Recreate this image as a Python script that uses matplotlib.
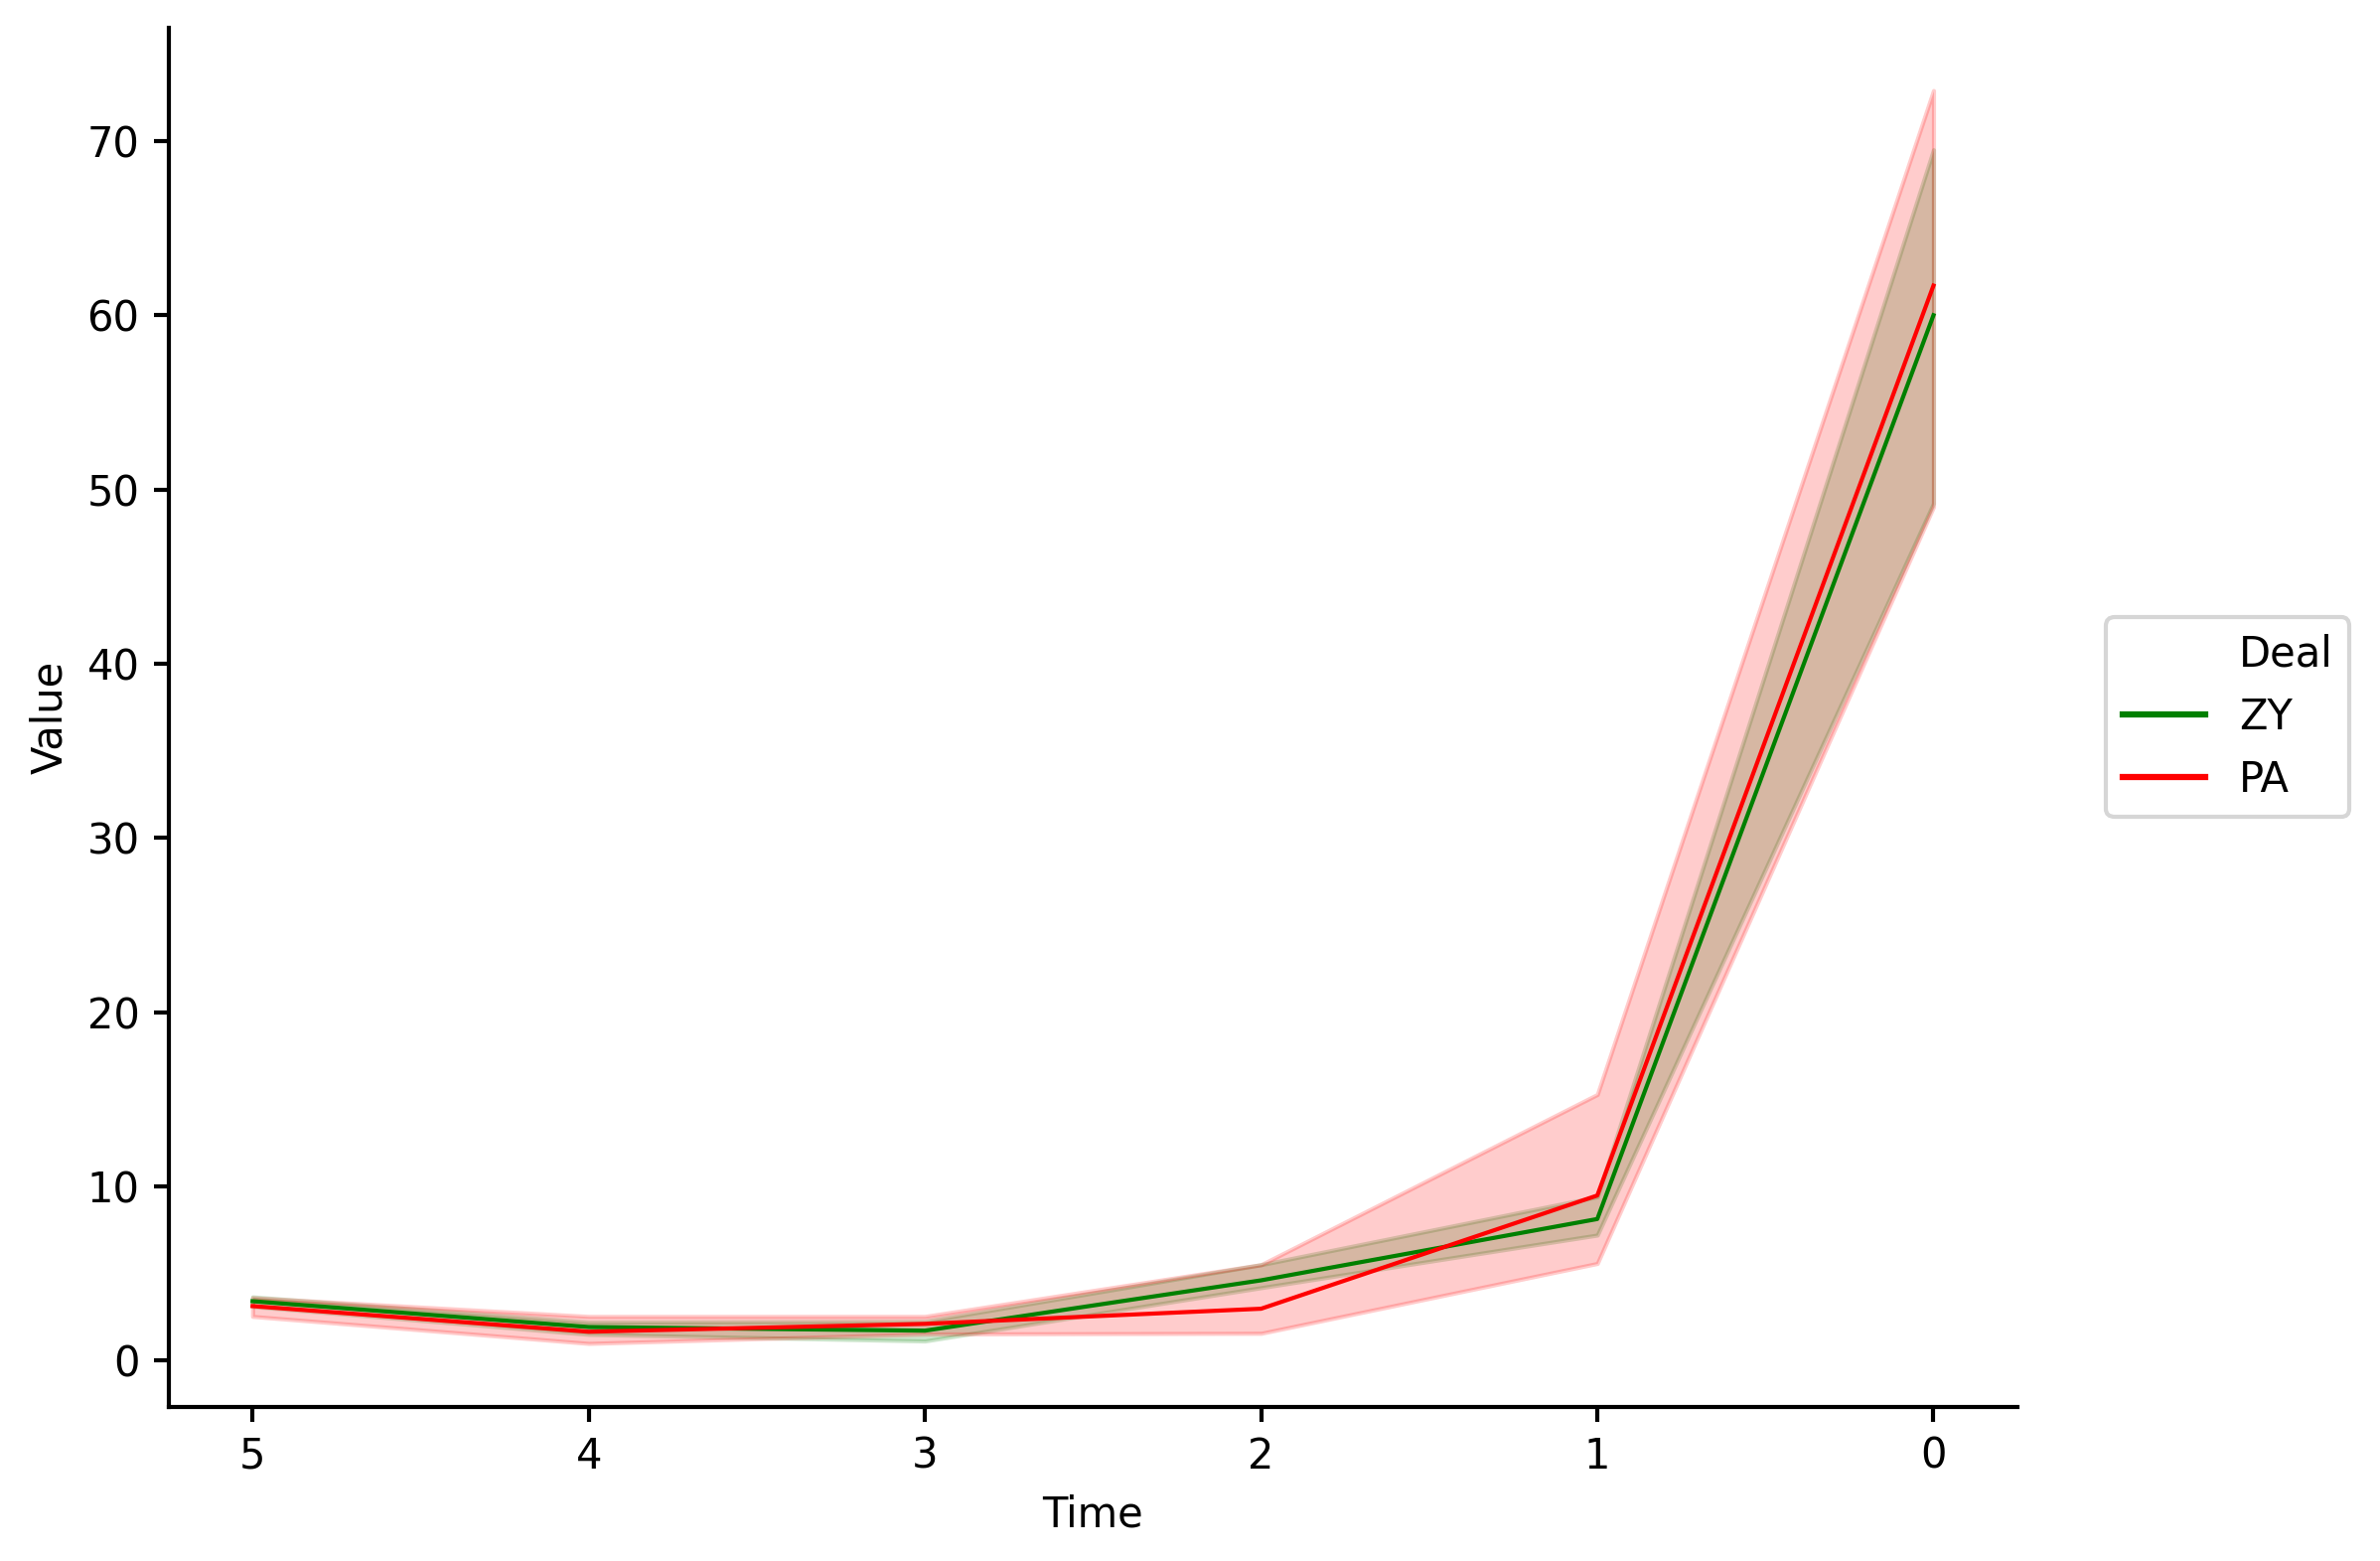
import matplotlib
matplotlib.use("Agg")
import matplotlib.pyplot as plt
from matplotlib.lines import Line2D

# Data
times = [5, 4, 3, 2, 1, 0]
zy_mean = [3.40, 1.92, 1.71, 4.60, 8.12, 60.0]
zy_low = [3.10, 1.50, 1.12, 4.18, 7.20, 49.2]
zy_high = [3.65, 2.20, 2.25, 5.50, 9.40, 69.5]
pa_mean = [3.12, 1.65, 2.10, 2.97, 9.47, 61.7]
pa_low = [2.53, 0.98, 1.52, 1.56, 5.57, 49.0]
pa_high = [3.60, 2.53, 2.53, 5.50, 15.27, 72.9]
series_names = ["ZY", "PA"]
series_colors = ["green", "red"]
legend_title = "Deal"

plt.rcParams['font.family'] = ['DejaVu Sans']

fig = plt.figure(figsize=(2396 / 300, 1571 / 300), dpi=300)
ax = fig.add_axes([0.0708, 0.0989, 0.8477 - 0.0708, 0.9822 - 0.0989])

means = [zy_mean, pa_mean]
lows = [zy_low, pa_low]
highs = [zy_high, pa_high]
for name, col, m, lo, hi in zip(series_names, series_colors, means, lows, highs):
    ax.plot(times, m, color=col, lw=1.0, label=name)
    ax.fill_between(times, lo, hi, color=col, alpha=0.2, lw=1.0)

ax.set_xlim(5.25, -0.25)
ax.set_xticks(times)
ax.set_xticklabels([str(t) for t in times])
ax.set_ylim(-2.65, 76.5)
ax.set_yticks([0, 10, 20, 30, 40, 50, 60, 70])
ax.set_xlabel("Time")
ax.set_ylabel("Value")

for side in ["top", "right"]:
    ax.spines[side].set_visible(False)
for side in ["left", "bottom"]:
    ax.spines[side].set_linewidth(1.0)
ax.tick_params(width=1.0, length=3.5)

handles = [Line2D([], [], color="none", lw=0)]
labels = [legend_title]
for name, col in zip(series_names, series_colors):
    handles.append(Line2D([], [], color=col, lw=1.5))
    labels.append(name)
ax.legend(handles, labels, loc="center left", bbox_to_anchor=(1.048, 0.5),
          borderaxespad=0.0)

fig.savefig("out.png", dpi=300)
